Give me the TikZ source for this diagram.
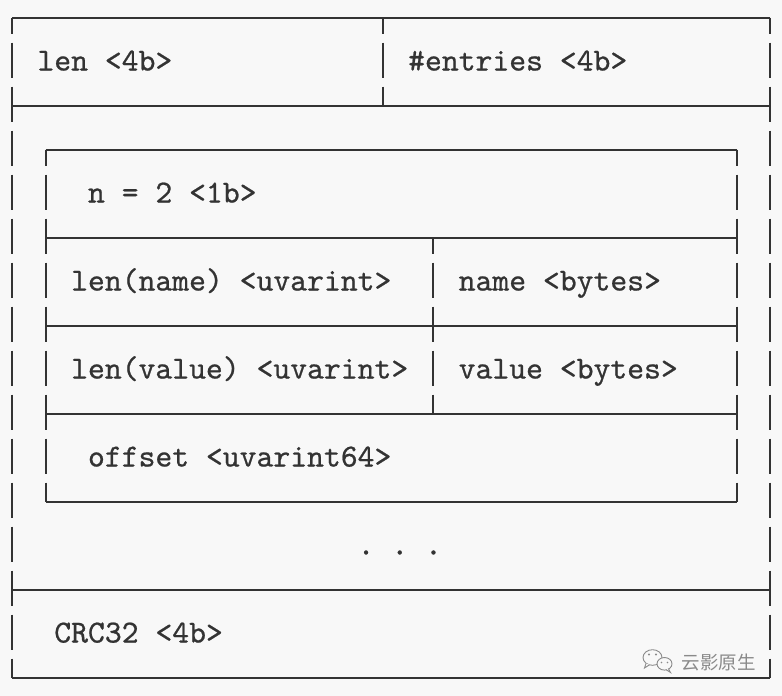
\documentclass[tikz,border=0pt]{standalone}
\usepackage{fontspec}
\newfontfamily\cjkfont{Noto Sans CJK SC}
\newfontfamily\codefont{lmmono10-regular}[Extension=.otf, FakeBold=0.7]
\definecolor{ink}{HTML}{333333}
\definecolor{bg}{HTML}{F8F8F8}
\definecolor{wm}{HTML}{8A8A8A}
\frenchspacing
\begin{document}
\begin{tikzpicture}[x=1pt,y=-1pt,
  hline/.style={draw=ink, line width=2pt},
  vline/.style={draw=ink, line width=2pt, dash pattern=on 35pt off 9pt, dash phase=19pt},
  lbl/.style={anchor=base west, inner sep=0pt, font=\codefont\fontsize{32.1}{34}\selectfont\frenchspacing, text=ink},
  wmtext/.style={anchor=west, inner sep=0pt, text=wm, font=\cjkfont\fontsize{18.5}{20}\selectfont}]
\fill[bg] (0,0) rectangle (782,696);
\useasboundingbox (0,0) rectangle (782,696);
% grid corners
\coordinate (OTL) at (12,17.5);     \coordinate (OTR) at (770.25,17.5);
\coordinate (OML) at (12,105.5);    \coordinate (OMR) at (770.25,105.5);
\coordinate (OCL) at (12,589.5);    \coordinate (OCR) at (770.25,589.5);
\coordinate (OBL) at (12,677.5);    \coordinate (OBR) at (770.25,677.5);
\coordinate (DT) at (382.7,17.5);   \coordinate (DB) at (382.7,105.5);
\coordinate (I1L) at (45.7,149.5);  \coordinate (I1R) at (736.55,149.5);
\coordinate (I2L) at (45.7,237.5);  \coordinate (I2R) at (736.55,237.5);
\coordinate (I3L) at (45.7,325.5);  \coordinate (I3R) at (736.55,325.5);
\coordinate (I4L) at (45.7,413.5);  \coordinate (I4R) at (736.55,413.5);
\coordinate (I5L) at (45.7,501.5);  \coordinate (I5R) at (736.55,501.5);
\coordinate (IDT) at (433.25,237.5); \coordinate (IDB) at (433.25,413.5);
% horizontal rules
\foreach \a/\b in {OTL/OTR, OML/OMR, OCL/OCR, OBL/OBR, I1L/I1R, I2L/I2R, I3L/I3R, I4L/I4R, I5L/I5R}
  \draw[hline] (\a) -- (\b);
% vertical rules
\foreach \a/\b in {OTL/OBL, OTR/OBR, DT/DB, I1L/I5L, I1R/I5R, IDT/IDB}
  \draw[vline] (\a) -- (\b);
% labels
\node[lbl] (len) at (37.275,70.5) {len <4b>};
\node[lbl] (entries) at (407.975,70.5) {\#entries <4b>};
\node[lbl] (n) at (87.825,202.5) {n = 2 <1b>};
\node[lbl] (lenname) at (70.975,290.5) {len(name) <uvarint>};
\node[lbl] (name) at (458.525,290.5) {name <bytes>};
\node[lbl] (lenvalue) at (70.975,378.5) {len(value) <uvarint>};
\node[lbl] (value) at (458.525,378.5) {value <bytes>};
\node[lbl] (offset) at (87.825,466.5) {offset <uvarint64>};
\node[lbl] (dots) at (357.425,554.5) {. . .};
\node[lbl] (crc) at (54.125,642.5) {CRC32 <4b>};
% watermark
\draw[wm, line width=0.9pt, fill=bg] (652.5,657.5) ellipse (9.5 and 7.8);
\draw[wm, line width=0.9pt, fill=bg] (646,663.5) -- (644.5,668) -- (649.5,664.8);
\draw[wm, line width=0.9pt, fill=bg] (664.5,663.8) ellipse (7.5 and 6.3);
\draw[wm, line width=0.9pt, fill=bg] (668.5,668.8) -- (670.5,672.5) -- (666,669.6);
\fill[wm] (649,654.5) circle (1.1) (656,654.5) circle (1.1);
\fill[wm] (661.5,662.5) circle (0.9) (667.5,662.5) circle (0.9);
\node[wmtext] (wmlabel) at (681.5,662) {云影原生};
\end{tikzpicture}
\end{document}
